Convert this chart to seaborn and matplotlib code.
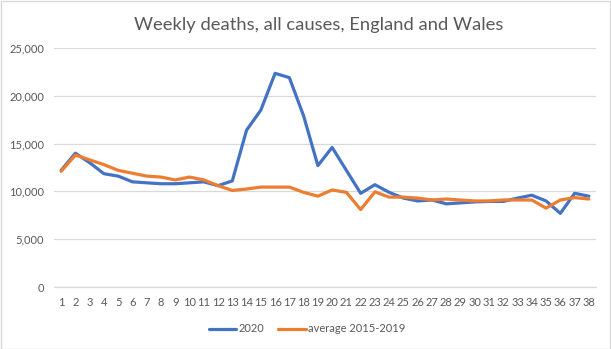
import matplotlib
matplotlib.use("Agg")
import matplotlib.pyplot as plt
from matplotlib.ticker import FuncFormatter, MultipleLocator
from matplotlib.patches import Rectangle
import seaborn as sns
import pandas as pd

weeks = list(range(1, 39))
deaths_2020 = [12200, 14000, 13000, 11850, 11600, 11000, 10900, 10800, 10800, 10900,
               11000, 10600, 11100, 16400, 18500, 22350, 21900, 17900, 12700, 14600,
               12200, 9800, 10700, 9900, 9300, 9000, 9100, 8700, 8800, 8900,
               8950, 8950, 9300, 9600, 9000, 7700, 9800, 9500]
average_2015_2019 = [12100, 13800, 13300, 12800, 12200, 11900, 11600, 11500, 11200, 11500,
                     11200, 10600, 10100, 10250, 10450, 10450, 10450, 9900, 9500, 10150,
                     9900, 8100, 9950, 9400, 9400, 9300, 9100, 9200, 9100, 9000,
                     9000, 9100, 9100, 9100, 8250, 9100, 9350, 9200]
series_names = ["2020", "average 2015-2019"]
colors = ["#4472C4", "#ED7D31"]

df = pd.DataFrame({
    "week": weeks * 2,
    "deaths": deaths_2020 + average_2015_2019,
    "series": [series_names[0]] * len(weeks) + [series_names[1]] * len(weeks),
})

sns.set_theme(style="white")
plt.rcParams["font.family"] = ["Lato", "DejaVu Sans"]
text_color = "#595959"
grid_color = "#D9D9D9"

W, H = 611, 349
fig = plt.figure(figsize=(W / 100, H / 100), dpi=100)
ax = fig.add_axes([54 / W, 1 - 287 / H, 542 / W, 239 / H])

sns.lineplot(data=df, x="week", y="deaths", hue="series",
             palette=dict(zip(series_names, colors)), linewidth=2.3,
             ax=ax, legend=True)

ax.set_xlim(0.5, 38.5)
ax.set_ylim(0, 25000)
ax.set_xticks(weeks)
ax.set_xticklabels([str(w) for w in weeks])
ax.yaxis.set_major_locator(MultipleLocator(5000))
ax.yaxis.set_major_formatter(FuncFormatter(lambda v, p: f"{int(v):,}"))
ax.grid(axis="y", color=grid_color, linewidth=0.9)
ax.set_axisbelow(True)
for side in ["top", "right", "left"]:
    ax.spines[side].set_visible(False)
ax.spines["bottom"].set_color(grid_color)
ax.spines["bottom"].set_linewidth(0.9)
ax.tick_params(axis="both", length=0, labelsize=8, colors=text_color)
ax.tick_params(axis="x", pad=7)
ax.tick_params(axis="y", pad=7)
ax.set_xlabel("")
ax.set_ylabel("")

fig.text(0.522, 1 - 25 / H, "Weekly deaths, all causes, England and Wales",
         ha="center", va="center", fontsize=13.2, color=text_color)

handles, labels = ax.get_legend_handles_labels()
leg = ax.legend(handles, labels, loc="center", ncol=2, frameon=False,
                fontsize=8, handlelength=2.45, handletextpad=0.2,
                columnspacing=1.3, labelcolor=text_color)
leg.set_bbox_to_anchor((307 / W, 1 - 329 / H), transform=fig.transFigure)
for line in leg.get_lines():
    line.set_linewidth(2.3)

fig.patches.append(Rectangle((0.5 / W, 0.5 / H), 1 - 1.5 / W, 1 - 1.5 / H,
                             transform=fig.transFigure, fill=False,
                             edgecolor=grid_color, linewidth=1))

fig.savefig("out.png", dpi=100, facecolor="white")
